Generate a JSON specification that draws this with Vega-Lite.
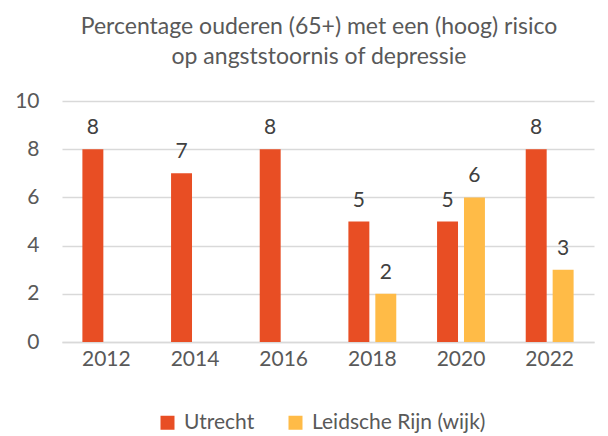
{
  "$schema": "https://vega.github.io/schema/vega-lite/v6.json",
  "width": 532,
  "height": 241,
  "autosize": {"type": "none"},
  "padding": {"left": 62, "top": 101, "right": 14, "bottom": 94},
  "background": "white",
  "title": {
    "text": ["Percentage ouderen (65+) met een (hoog) risico", "op angststoornis of depressie"],
    "font": "Lato",
    "fontSize": 23,
    "fontWeight": "normal",
    "color": "#595959",
    "anchor": "middle",
    "dx": -9,
    "offset": 21,
    "lineHeight": 30
  },
  "config": {
    "view": {"stroke": null},
    "font": "Lato"
  },
  "data": {
    "values": [
      {"year": "2012", "series": "Utrecht", "value": 8},
      {"year": "2014", "series": "Utrecht", "value": 7},
      {"year": "2016", "series": "Utrecht", "value": 8},
      {"year": "2018", "series": "Utrecht", "value": 5},
      {"year": "2020", "series": "Utrecht", "value": 5},
      {"year": "2022", "series": "Utrecht", "value": 8},
      {"year": "2018", "series": "Leidsche Rijn (wijk)", "value": 2},
      {"year": "2020", "series": "Leidsche Rijn (wijk)", "value": 6},
      {"year": "2022", "series": "Leidsche Rijn (wijk)", "value": 3}
    ]
  },
  "encoding": {
    "x": {
      "field": "year",
      "type": "nominal",
      "scale": {"paddingInner": 0.46, "paddingOuter": 0.23},
      "axis": {
        "title": null,
        "labelAngle": 0,
        "labelFont": "Lato",
        "labelFontSize": 21,
        "labelColor": "#595959",
        "labelPadding": 6,
        "ticks": false,
        "domainColor": "#D9D9D9",
        "domainWidth": 1.5
      }
    },
    "xOffset": {
      "field": "series",
      "type": "nominal",
      "scale": {"domain": ["Utrecht", "Leidsche Rijn (wijk)"], "paddingInner": 0.222}
    },
    "y": {
      "field": "value",
      "type": "quantitative",
      "scale": {"domain": [0, 10]},
      "axis": {
        "title": null,
        "values": [0, 2, 4, 6, 8, 10],
        "labelFont": "Lato",
        "labelFontSize": 21,
        "labelColor": "#595959",
        "labelPadding": 23,
        "ticks": false,
        "domain": false,
        "gridColor": "#D9D9D9",
        "gridWidth": 1.5
      }
    }
  },
  "layer": [
    {
      "mark": {"type": "bar"},
      "encoding": {
        "color": {
          "field": "series",
          "type": "nominal",
          "scale": {"domain": ["Utrecht", "Leidsche Rijn (wijk)"], "range": ["#E84E24", "#FFBB47"]},
          "legend": {
            "title": null,
            "orient": "none",
            "direction": "horizontal",
            "legendX": 95,
            "legendY": 311,
            "symbolType": "square",
            "symbolSize": 196,
            "symbolStrokeWidth": 0,
            "labelFont": "Lato",
            "labelFontSize": 21,
            "labelColor": "#595959",
            "labelOffset": 6,
            "labelLimit": 400,
            "columnPadding": 30
          }
        }
      }
    },
    {
      "mark": {"type": "text", "baseline": "bottom", "dy": -11, "fontSize": 21, "color": "#404040", "font": "Lato"},
      "encoding": {
        "text": {"field": "value", "type": "quantitative"}
      }
    }
  ]
}
